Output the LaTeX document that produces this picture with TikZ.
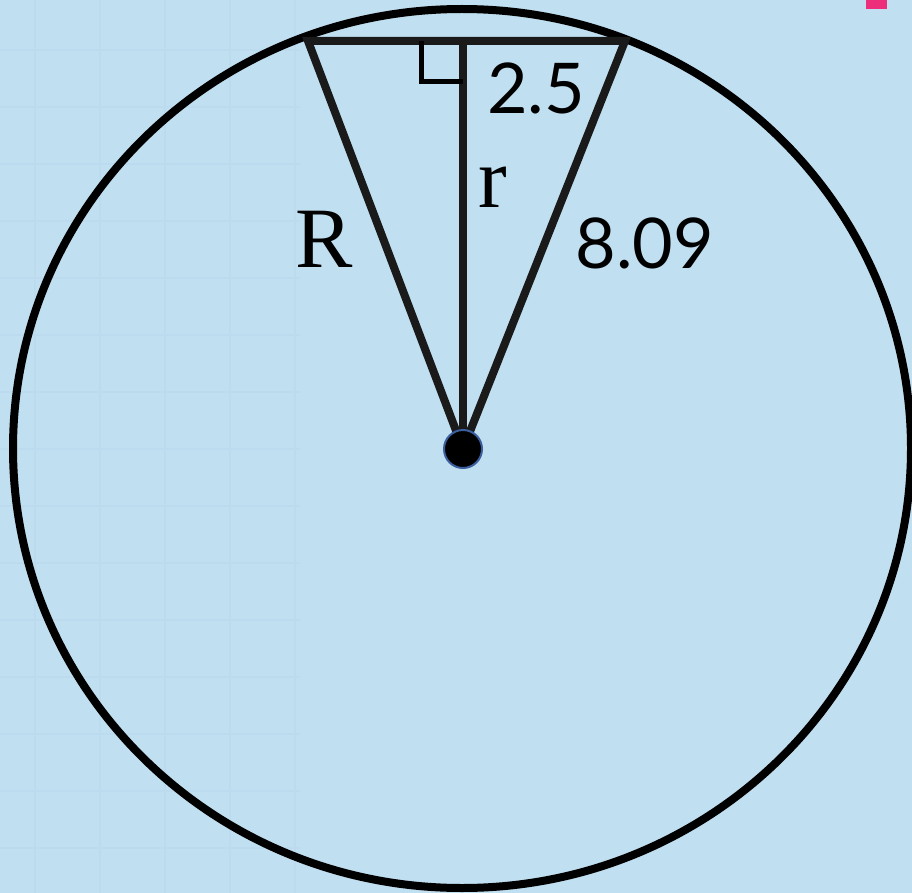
\documentclass[tikz,border=0pt]{standalone}
\usepackage{fontspec}
\setmainfont{Liberation Serif}
\newfontfamily\numfont{Lato}
\definecolor{bg}{HTML}{C0DFF1}
\definecolor{gridc}{HTML}{B8D8EC}
\definecolor{pinkc}{HTML}{EC2E7B}
\definecolor{linec}{HTML}{1A1A1A}
\definecolor{dotedge}{HTML}{3B5E9E}
\tikzset{
  rim/.style={draw=black, line width=8pt},
  tri/.style={draw=linec, line width=8pt, line join=miter},
  rightmark/.style={draw=black, line width=5pt, line join=miter},
  lbl/.style={inner sep=0pt, text=black},
  gridline/.style={draw=gridc, line width=2pt},
}
\begin{document}
\begin{tikzpicture}[x=1pt,y=-1pt]
\fill[bg] (0,0) rectangle (912,893);
\useasboundingbox (0,0) rectangle (912,893);
% faint grid on the left
\foreach \gx in {35,100,165,230,295}{\draw[gridline] (\gx,0) -- (\gx,893);}
\foreach \gy in {50,107,164,221,278,335,392,449,506,563,620,677,734,791,848}{\draw[gridline] (0,\gy) -- (300,\gy);}
\fill[bg, opacity=0.55] (0,0) rectangle (912,893);
% pink mark
\fill[pinkc] (866,0) rectangle (887,9);
% points
\coordinate (O) at (463,449);
\coordinate (A) at (308,41);
\coordinate (B) at (625,41);
\coordinate (F) at (463,41);
\coordinate (S1) at (421,41);
\coordinate (S2) at (421,82);
\coordinate (S3) at (463,82);
% circle
\draw[rim] (462,448.5) ellipse [x radius=449, y radius=439.5];
% triangle
\draw[tri] (O) -- (A) -- (B) -- (O);
\draw[tri] (F) -- (O);
\draw[rightmark] (S1) -- (S2) -- (S3);
% centre dot
\node[circle, fill=black, draw=dotedge, line width=2pt, minimum size=38pt, inner sep=0pt] (dot) at (O) {};
% labels
\node[lbl, font=\numfont\fontsize{70}{72}\selectfont] (l25) at (536,88) {2.5};
\node[lbl, font=\numfont\fontsize{70}{72}\selectfont] (l809) at (645,243) {8.09};
\node[lbl, font=\fontsize{86}{90}\selectfont, anchor=base] (lR) at (324,267) {R};
\node[lbl, font=\fontsize{86}{90}\selectfont, anchor=base] (lr) at (493,208) {r};
\end{tikzpicture}
\end{document}
